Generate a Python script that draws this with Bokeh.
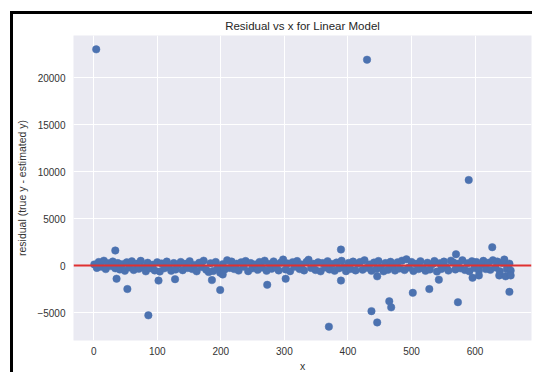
from bokeh.plotting import figure
from bokeh.models import Range1d, Span, FixedTicker, ColumnDataSource
from bokeh.embed import file_html
from bokeh.resources import INLINE

# ---- data ----
band_x = [
    1, 5, 8, 12, 16, 19, 23, 27, 30, 34,
    38, 41, 45, 49, 52, 56, 60, 63, 67, 71,
    74, 78, 82, 85, 89, 93, 96, 100, 104, 107,
    111, 115, 118, 122, 126, 129, 133, 137, 140, 144,
    148, 151, 155, 159, 162, 166, 170, 173, 177, 181,
    184, 188, 192, 195, 199, 203, 206, 210, 214, 217,
    221, 225, 228, 232, 236, 239, 243, 247, 250, 254,
    258, 261, 265, 269, 272, 276, 280, 283, 287, 291,
    294, 298, 302, 305, 309, 313, 316, 320, 324, 327,
    331, 335, 338, 342, 346, 349, 353, 357, 360, 364,
    368, 371, 375, 379, 382, 386, 390, 393, 397, 401,
    404, 408, 412, 415, 419, 423, 426, 430, 434, 437,
    441, 445, 448, 452, 456, 459, 463, 467, 470, 474,
    478, 481, 485, 489, 492, 496, 500, 503, 507, 511,
    514, 518, 522, 525, 529, 533, 536, 540, 544, 547,
    551, 555, 558, 562, 566, 569, 573, 577, 580, 584,
    588, 591, 595, 599, 602, 606, 610, 613, 617, 621,
    624, 628, 632, 635, 639, 643, 646, 650, 654, 656,
]
band_y = [
    120, -250, 380, -120, 520, -380, 240, -60, 430, -300,
    260, -420, 150, -560, 340, -200, 450, -480, 180, -350,
    500, -150, -620, 300, -280, 80, -520, 350, -640, 220,
    -300, 420, -180, -560, 260, -420, 120, 380, -500, 180,
    -260, 460, -380, 70, -620, 300, -150, 520, -450, -700,
    240, -580, 380, -320, -760, 150, -420, 560, -250, 420,
    -380, 200, -540, 340, -120, 480, -600, 260, -300, 120,
    -460, 380, -220, 520, -560, 160, -340, 440, -180, -520,
    300, 640, -420, 220, -600, 360, -140, 480, -380, 120,
    -520, 400, 620, -260, 180, -480, 340, -620, 260, -200,
    460, -420, 160, -560, 320, -300, 500, -180, -600, 280,
    -360, 420, -520, 200, 380, -440, 560, -240, 100, -560,
    320, -380, 480, -200, -620, 260, -460, 400, -140, -540,
    340, -320, 520, -480, 660, -220, 380, -580, 180, -380,
    460, -260, -560, 300, -420, 140, 480, -640, 240, -360,
    420, -180, -540, 520, 320, -420, 180, -300, 560, -480,
    240, -620, 460, -260, 380, -540, 120, 500, -380, 300,
    -460, 560, -200, 420, -600, 280, 640, -380, 200, -540,
]
out_x = [4, 34, 36, 53, 86, 102, 128, 186, 199, 203, 273, 302, 370, 389, 389,
         430, 437, 446, 446, 465, 468, 502, 528, 543, 570, 573, 590, 596, 606,
         627, 638, 648, 654, 656]
out_y = [23000, 1600, -1400, -2500, -5300, -1600, -1450, -1550, -2600, -950,
         -2050, -1400, -6500, 1700, -1600, 21900, -4850, -6050, -1150, -3800,
         -4450, -2900, -2500, -1500, 1200, -3900, 9100, -1300, -1050, 1950,
         -1050, -1150, -2800, -1050]
x_ticks = [0, 100, 200, 300, 400, 500, 600]
y_ticks = [-5000, 0, 5000, 10000, 15000, 20000]
title_text = "Residual vs x for Linear Model"
x_label = "x"
y_label = "residual (true y - estimated y)"

FONT = "Liberation Sans"
TXT = "#333333"

all_x = band_x + out_x
all_y = band_y + out_y
src = ColumnDataSource(dict(x=all_x, y=all_y))

xmin, xmax = min(all_x), max(all_x)
ymin, ymax = min(all_y), max(all_y)
xm = (xmax - xmin) * 0.05
ym = (ymax - ymin) * 0.05

# the figure sits inside a black top/left frame (as in the screenshot)
p = figure(width=522, height=361, output_backend="svg", toolbar_location=None,
           x_range=Range1d(xmin - xm, xmax + xm), y_range=Range1d(ymin - ym, ymax + ym),
           min_border_left=59, min_border_right=4, min_border_top=21, min_border_bottom=35,
           margin=(11, 0, 0, 10),
           styles={"border-top": "3px solid black", "border-left": "3px solid black"})

p.title.text = title_text
p.title.align = "center"
p.title.text_font = FONT
p.title.text_font_size = "11.5px"
p.title.text_font_style = "normal"
p.title.text_color = "#262626"
p.title.standoff = 7

p.background_fill_color = "#EAEAF2"
p.border_fill_color = "white"
p.outline_line_color = None

for g in (p.xgrid, p.ygrid):
    g.grid_line_color = "white"
    g.grid_line_width = 1
p.xgrid.ticker = FixedTicker(ticks=x_ticks)
p.ygrid.ticker = FixedTicker(ticks=y_ticks)

p.xaxis.ticker = FixedTicker(ticks=x_ticks)
p.yaxis.ticker = FixedTicker(ticks=y_ticks)
for ax in (p.xaxis, p.yaxis):
    ax.axis_line_color = None
    ax.major_tick_line_color = None
    ax.minor_tick_line_color = None
    ax.major_tick_out = 0
    ax.major_tick_in = 0
    ax.minor_tick_out = 0
    ax.major_label_text_font = FONT
    ax.major_label_text_font_size = "10px"
    ax.major_label_text_color = TXT
    ax.axis_label_text_font = FONT
    ax.axis_label_text_font_size = "10.5px"
    ax.axis_label_text_font_style = "normal"
    ax.axis_label_text_color = TXT
p.xaxis.axis_label = x_label
p.yaxis.axis_label = y_label
p.xaxis.major_label_standoff = 6
p.yaxis.major_label_standoff = 8
p.xaxis.axis_label_standoff = 2
p.yaxis.axis_label_standoff = 6

p.scatter("x", "y", source=src, size=7.5, fill_color="#4C72B0", line_color="#4C72B0",
          line_width=0.5)

p.add_layout(Span(location=0, dimension="width", line_color="#e03030", line_width=2))

open("out.html", "w").write(file_html(p, INLINE))
